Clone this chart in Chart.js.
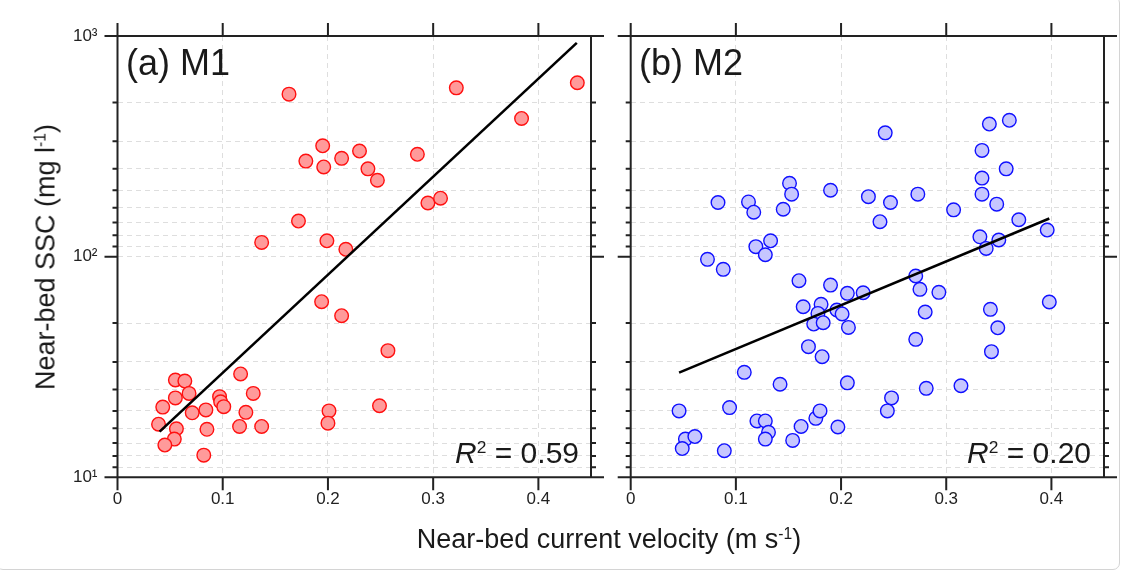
<!DOCTYPE html>
<html>
<head>
<meta charset="utf-8">
<script src="https://cdn.jsdelivr.net/npm/chart.js@4.4.1/dist/chart.umd.min.js"></script>
<style>
  html, body { margin: 0; padding: 0; background: #fff; }
  body { width: 1128px; height: 574px; position: relative; overflow: hidden;
         font-family: "Liberation Sans", Arial, sans-serif; color: #1a1a1a; }
  canvas { position: absolute; top: 0; }
  #chartA { left: 0; }
  #chartB { left: 610px; }
  .txt { position: absolute; white-space: nowrap; line-height: 1; }
  .panel { font-size: 36px; top: 45px; }
  .r2 { font-size: 30px; top: 438px; }
  .r2 sup, .ttl sup { font-size: 58%; vertical-align: 0; position: relative; top: -0.6em; }
  .ttl { font-size: 27px; }
  #frameBox { position: absolute; left: -4px; top: -4px; width: 1122px; height: 572px;
              border: 1px solid #d4d4d4; border-radius: 7px; }
</style>
</head>
<body>
<div id="frameBox"></div>
<canvas id="chartA" width="610" height="574"></canvas>
<canvas id="chartB" width="518" height="574"></canvas>

<div class="txt panel" style="left:126px">(a) M1</div>
<div class="txt panel" style="left:639px">(b) M2</div>
<div class="txt r2" style="right:549px"><i>R</i><sup>2</sup> = 0.59</div>
<div class="txt r2" style="right:37px"><i>R</i><sup>2</sup> = 0.20</div>
<div class="txt ttl" style="left:609px; top:526px; transform:translateX(-50%)">Near-bed current velocity (m s<sup>-1</sup>)</div>
<div class="txt ttl" style="left:46px; top:257px; transform:translate(-50%,-50%) rotate(-90deg)">Near-bed SSC (mg l<sup>-1</sup>)</div>

<script>
// tick positions
const xTicks = [0, 0.1, 0.2, 0.3, 0.4];
const yMajor = [10, 100, 1000];
const yMajorLabels = ['10¹', '10²', '10³'];
// minor ticks as drawn in the original figure
const yMinor = [11.11, 12.5, 14.29, 16.67, 20, 25, 33.33, 50,
                111.1, 125, 142.9, 166.7, 200, 250, 333.3, 500];

// (a) M1
const m1Velocity = [0.163, 0.322, 0.437, 0.384, 0.179, 0.195, 0.196, 0.213, 0.230, 0.238,
                    0.247, 0.285, 0.295, 0.307, 0.172, 0.137, 0.199, 0.217, 0.194, 0.213,
                    0.257, 0.117, 0.055, 0.064, 0.129, 0.068, 0.055, 0.097, 0.098, 0.101,
                    0.043, 0.084, 0.071, 0.122, 0.201, 0.200, 0.039, 0.116, 0.137, 0.056,
                    0.085, 0.054, 0.045, 0.082, 0.249];
const m1SSC = [545, 582, 614, 423, 271, 318, 255, 279, 301, 250,
               222, 291, 175, 184, 145, 116, 118, 108, 62.5, 54,
               37.5, 29.4, 27.6, 27.3, 24, 24, 22.9, 23.2, 22, 20.9,
               20.8, 20.2, 19.6, 19.7, 20, 17.6, 17.4, 17, 17, 16.6,
               16.5, 14.9, 14, 12.6, 21.1];
const m1FitVelocity = [0.040, 0.4365];
const m1FitSSC = [16.1, 931];

// (b) M2
const m2Velocity = [0.083, 0.112, 0.117, 0.151, 0.153, 0.145, 0.190, 0.226, 0.242, 0.341,
                    0.360, 0.334, 0.357, 0.334, 0.334, 0.348, 0.273, 0.247, 0.307, 0.237,
                    0.369, 0.073, 0.088, 0.119, 0.133, 0.128, 0.160, 0.190, 0.206, 0.221,
                    0.164, 0.181, 0.178, 0.196, 0.201, 0.174, 0.183, 0.207, 0.169, 0.182,
                    0.108, 0.332, 0.350, 0.338, 0.396, 0.271, 0.275, 0.293, 0.280, 0.342,
                    0.398, 0.349, 0.271, 0.343, 0.142, 0.206, 0.046, 0.094, 0.120, 0.128,
                    0.131, 0.128, 0.162, 0.154, 0.176, 0.180, 0.197, 0.052, 0.061, 0.049,
                    0.089, 0.248, 0.244, 0.281, 0.314];
const m2SSC = [176, 177, 159, 215, 192, 164, 200, 187, 364, 399,
               415, 303, 250, 227, 192, 173, 192, 176, 163, 144,
               147, 97.2, 87.6, 111, 118, 102, 77.8, 74.3, 68.2, 68.6,
               59.3, 60.8, 55.3, 57.3, 55, 49.5, 50.2, 47.8, 39.1, 35.2,
               29.9, 123, 119, 109, 132, 81.7, 71.1, 68.9, 56.1, 57.7,
               62.3, 47.6, 42.2, 37.1, 26.4, 26.8, 20, 20.7, 18, 18,
               16, 14.9, 17, 14.7, 18.5, 20, 16.9, 14.9, 15.3, 13.5,
               13.2, 22.9, 20, 25.3, 26];
const m2FitVelocity = [0.046, 0.398];
const m2FitSSC = [29.8, 149];

const yTicks = yMajor.concat(yMinor).sort((a, b) => a - b);
const tickFont = { family: "'Liberation Sans', Arial, sans-serif", size: 17 };

// axis frame with outward ticks, lines run past the corners where a tick sits
const framePlugin = {
    id: 'frame',
    beforeDatasetsDraw(chart) {
        const ctx = chart.ctx;
        const a = chart.chartArea;
        const x = chart.scales.x, y = chart.scales.y;
        const big = 13, small = 5;
        ctx.save();
        ctx.strokeStyle = '#222';
        ctx.lineWidth = 2;
        ctx.beginPath();
        ctx.moveTo(a.left, a.top); ctx.lineTo(a.right, a.top);
        ctx.moveTo(a.left, a.bottom); ctx.lineTo(a.right, a.bottom);
        ctx.moveTo(a.left, a.top); ctx.lineTo(a.left, a.bottom);
        ctx.moveTo(a.right, a.top); ctx.lineTo(a.right, a.bottom);
        xTicks.forEach(v => {
            const px = x.getPixelForValue(v);
            ctx.moveTo(px, a.top - big); ctx.lineTo(px, a.top);
            ctx.moveTo(px, a.bottom); ctx.lineTo(px, a.bottom + big);
        });
        yTicks.forEach(v => {
            const py = y.getPixelForValue(v);
            const len = yMajor.includes(v) ? big : small;
            ctx.moveTo(a.left - len, py); ctx.lineTo(a.left, py);
            ctx.moveTo(a.right, py); ctx.lineTo(a.right + len, py);
        });
        ctx.stroke();
        ctx.restore();
    }
};

function makePanel(id, xs, ys, fitX, fitY, stroke, fill, showYLabels, areaLeft, padRight) {
    const points = xs.map((v, i) => ({ x: v, y: ys[i] }));
    const fit = fitX.map((v, i) => ({ x: v, y: fitY[i] }));
    return new Chart(document.getElementById(id), {
        type: 'scatter',
        data: {
            datasets: [
                {
                    data: fit, showLine: true, borderColor: '#000', borderWidth: 2.6,
                    pointRadius: 0, order: 0
                },
                {
                    data: points, pointRadius: 6.8, pointBorderWidth: 1.4,
                    pointBackgroundColor: fill, pointBorderColor: stroke, order: 1
                }
            ]
        },
        options: {
            responsive: false,
            animation: false,
            devicePixelRatio: 1,
            layout: { padding: { left: 0, top: 36, right: padRight, bottom: 0 } },
            plugins: { legend: { display: false }, tooltip: { enabled: false } },
            scales: {
                x: {
                    type: 'linear', min: 0, max: 0.45,
                    afterBuildTicks: s => { s.ticks = xTicks.map(v => ({ value: v })); },
                    afterFit: s => { s.height = 574 - 477.3; },
                    grid: { color: '#dedede', lineWidth: 1, drawTicks: false },
                    border: { display: false, dash: [5, 4] },
                    ticks: {
                        padding: 12, color: '#222', maxRotation: 0, autoSkip: false,
                        font: tickFont,
                        callback: v => String(v)
                    }
                },
                y: {
                    type: 'logarithmic', min: 10, max: 1000,
                    afterBuildTicks: s => { s.ticks = yTicks.map(v => ({ value: v })); },
                    afterFit: s => { s.width = areaLeft; },
                    grid: { color: '#dedede', lineWidth: 1, drawTicks: false },
                    border: { display: false, dash: [5, 4] },
                    ticks: {
                        display: showYLabels, padding: 20, color: '#222', autoSkip: false,
                        font: tickFont,
                        callback: v => {
                            const k = yMajor.indexOf(v);
                            return k >= 0 ? yMajorLabels[k] : '';
                        }
                    }
                }
            }
        },
        plugins: [framePlugin]
    });
}

makePanel('chartA', m1Velocity, m1SSC, m1FitVelocity, m1FitSSC,
          '#ff1010', '#ff9a9a', true, 117.5, 19);
makePanel('chartB', m2Velocity, m2SSC, m2FitVelocity, m2FitSSC,
          '#1010ff', '#c6c6ff', false, 20.7, 24);
</script>
</body>
</html>
